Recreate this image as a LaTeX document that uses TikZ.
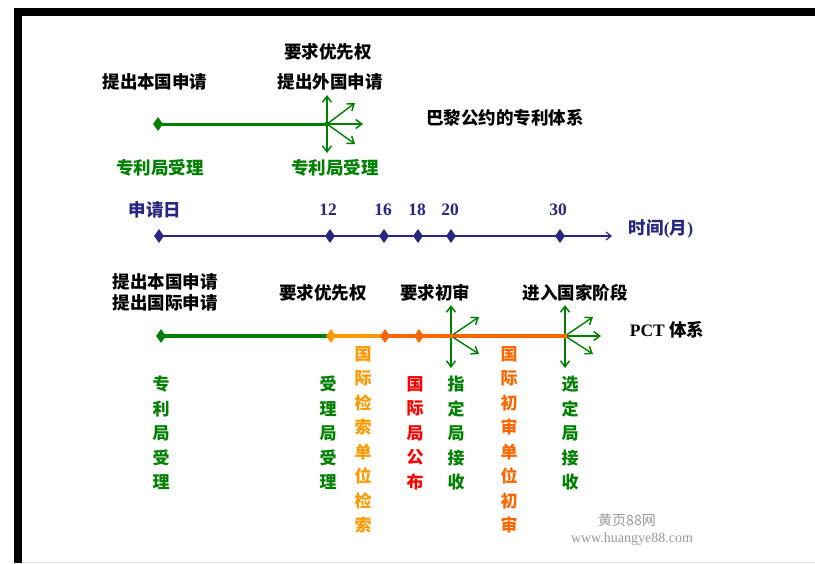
\documentclass[tikz,border=0pt]{standalone}
\usepackage{fontspec}
\setmainfont{Liberation Serif}
\newfontfamily\cjk{Noto Sans CJK SC}
\usetikzlibrary{arrows.meta,shapes.geometric}
\definecolor{dgreen}{RGB}{0,128,0}
\definecolor{navy}{RGB}{40,40,130}
\definecolor{ayellow}{RGB}{255,153,0}
\definecolor{aorange}{RGB}{255,102,0}
\definecolor{ared}{RGB}{255,0,0}
\tikzset{
  lbl/.style={inner sep=0pt, font=\cjk\bfseries\fontsize{17.5}{19}\selectfont, text=black},
  glbl/.style={lbl, text=dgreen},
  num/.style={inner sep=0pt, font=\bfseries\fontsize{17.5}{19}\selectfont, text=navy},
  vtext/.style={inner sep=0pt, anchor=north, align=center, font=\cjk\bfseries\fontsize{17}{24.5}\selectfont},
  dmd/.style={shape=diamond, inner sep=0pt, minimum width=10pt, minimum height=14pt, draw=none},
  barb/.style={-{Straight Barb[length=6pt,width=9pt,line width=1.5pt]}, line width=1.4pt, dgreen},
  wm/.style={inner sep=0pt, text=black!40, font=\fontsize{14}{16}\selectfont}
}
\begin{document}
\begin{tikzpicture}[x=1pt,y=-1pt]
\useasboundingbox (0,0) rectangle (815,563);
\fill[white] (0,0) rectangle (815,563);
% frame
\fill[black] (14,8) rectangle (815,16);
\fill[black] (14,8) rectangle (22,563);
\draw[black!12] (22,562) -- (815,562);

% ===== Paris convention =====
\node[lbl] (t1) at (328,52) {要求优先权};
\node[lbl] (t2) at (155,82) {提出本国申请};
\node[lbl] (t3) at (330,82) {提出外国申请};
\node[lbl] (t4) at (505,118) {巴黎公约的专利体系};
\node[glbl] (t5) at (160,168) {专利局受理};
\node[glbl] (t6) at (335,168) {专利局受理};
\coordinate (pa) at (158,124);
\coordinate (pb) at (327,124);
\draw[dgreen, line width=3pt] (pa) -- (pb);
\coordinate (pu) at (327,95);
\coordinate (pd) at (327,153);
\coordinate (pr) at (363,124);
\coordinate (pur) at (355,103);
\coordinate (pdr) at (355,144);
\draw[barb] (pb) -- (pu);
\draw[barb] (pb) -- (pd);
\draw[barb] (pb) -- (pr);
\draw[barb] (pb) -- (pur);
\draw[barb] (pb) -- (pdr);
\node[dmd, fill=dgreen] (pad) at (pa) {};
\fill[dgreen] (pb) circle (2.5pt);

% ===== timeline =====
\node[num, font=\cjk\bfseries\fontsize{17.5}{19}\selectfont] (s0) at (155,210) {申请日};
\node[num] (s12) at (328,210) {12};
\node[num] (s16) at (383,210) {16};
\node[num] (s18) at (417,210) {18};
\node[num] (s20) at (450,210) {20};
\node[num] (s30) at (558,210) {30};
\node[num, font=\cjk\bfseries\fontsize{17.5}{19}\selectfont] (st) at (661,229) {时间{\rmfamily\bfseries (}月{\rmfamily\bfseries )}};
\coordinate (m0) at (159,236);
\coordinate (m12) at (330,236);
\coordinate (m16) at (384,236);
\coordinate (m18) at (418,236);
\coordinate (m20) at (451,236);
\coordinate (m30) at (560,236);
\coordinate (mend) at (612,236);
\draw[navy, line width=1.8pt, -{Straight Barb[length=5pt,width=8pt,line width=1.2pt]}] (m0) -- (mend);
\foreach \m in {m0,m12,m16,m18,m20,m30} \node[dmd, fill=navy] (d\m) at (\m) {};

% ===== PCT =====
\node[lbl] (q1) at (165,282) {提出本国申请};
\node[lbl] (q2) at (165,303) {提出国际申请};
\node[lbl] (q3) at (323,293) {要求优先权};
\node[lbl] (q4) at (435,293) {要求初审};
\node[lbl] (q5) at (575,293) {进入国家阶段};
\node[lbl, font=\bfseries\fontsize{17.5}{19}\selectfont] (q6) at (667,330) {PCT {\cjk\bfseries 体系}};

\coordinate (c0) at (161,336);
\coordinate (c1) at (331,336);
\coordinate (c2) at (385,336);
\coordinate (c3) at (419,336);
\coordinate (c4) at (451,336);
\coordinate (c5) at (565,336);
\draw[dgreen, line width=3.5pt] (c0) -- (c1);
\draw[ayellow, line width=3.5pt] (c1) -- (c2);
\draw[aorange, line width=3.5pt] (c2) -- (c5);
% cluster at 20 months
\coordinate (au) at (451,305);
\coordinate (ad) at (451,368);
\coordinate (aur) at (479,317);
\coordinate (adr) at (479,354);
\draw[barb] (c4) -- (au);
\draw[barb] (c4) -- (ad);
\draw[barb] (c4) -- (aur);
\draw[barb] (c4) -- (adr);
% cluster at 30 months
\coordinate (bu) at (565,305);
\coordinate (bd) at (565,368);
\coordinate (bur) at (593,317);
\coordinate (br) at (601,336);
\coordinate (bdr) at (593,354);
\draw[barb] (c5) -- (bu);
\draw[barb] (c5) -- (bd);
\draw[barb] (c5) -- (bur);
\draw[barb] (c5) -- (br);
\draw[barb] (c5) -- (bdr);
\node[dmd, fill=dgreen] (e0) at (c0) {};
\node[dmd, fill=ayellow] (e1) at (c1) {};
\node[dmd, fill=aorange] (e2) at (c2) {};
\node[dmd, fill=aorange] (e3) at (c3) {};
\fill[aorange] (c4) circle (2.5pt);
\fill[aorange] (c5) circle (2.5pt);

% vertical labels
\node[vtext, text=dgreen] (v1) at (161,376) {专\\利\\局\\受\\理};
\node[vtext, text=dgreen] (v2) at (328,376) {受\\理\\局\\受\\理};
\node[vtext, text=ayellow] (v3) at (363,346) {国\\际\\检\\索\\单\\位\\检\\索};
\node[vtext, text=ared] (v4) at (415,376) {国\\际\\局\\公\\布};
\node[vtext, text=dgreen] (v5) at (456,376) {指\\定\\局\\接\\收};
\node[vtext, text=aorange] (v6) at (509,346) {国\\际\\初\\审\\单\\位\\初\\审};
\node[vtext, text=dgreen] (v7) at (570,376) {选\\定\\局\\接\\收};

% watermark
\node[wm, font=\cjk\fontsize{14}{16}\selectfont] (w1) at (627,520) {黄页88网};
\node[wm] (w2) at (632,539) {www.huangye88.com};
\end{tikzpicture}
\end{document}
